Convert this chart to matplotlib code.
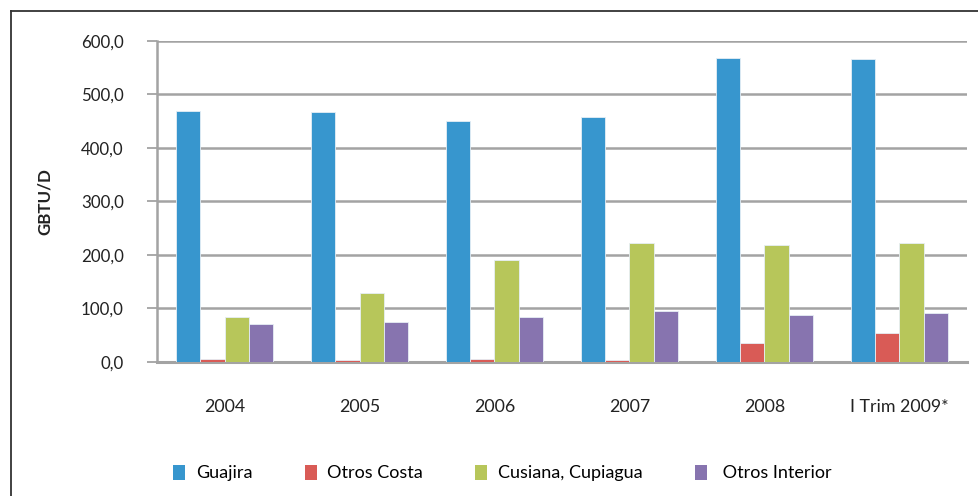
import matplotlib
matplotlib.use("Agg")
import matplotlib.pyplot as plt
from matplotlib.lines import Line2D
from matplotlib.patches import Patch
import numpy as np

categories = ["2004", "2005", "2006", "2007", "2008", "I Trim 2009*"]
series_names = ["Guajira", "Otros Costa", "Cusiana, Cupiagua", " Otros Interior"]
guajira = [468, 466, 449, 457, 568, 565]
otros_costa = [5, 4, 5.5, 3.5, 35, 53]
cusiana_cupiagua = [83, 129, 190, 222, 218, 222]
otros_interior = [71, 75, 84, 95, 87, 91]
colors = ["#3796CE", "#D95B56", "#B7C65A", "#8774AF"]
y_ticks = [0, 100, 200, 300, 400, 500, 600]
y_tick_labels = ["0,0", "100,0", "200,0", "300,0", "400,0", "500,0", "600,0"]

plt.rcParams["font.family"] = ["Lato", "DejaVu Sans"]

fig = plt.figure(figsize=(9.79, 4.96), dpi=100)
ax = fig.add_axes([157 / 979, 1 - 361.7 / 496, (967 - 157) / 979, (361.7 - 40.7) / 496])

x = np.arange(len(categories))
w = 0.18
data = [guajira, otros_costa, cusiana_cupiagua, otros_interior]
for i, (vals, c) in enumerate(zip(data, colors)):
    ax.bar(x + (i - 1.5) * w, vals, width=w, color=c, edgecolor="#E6EEF5",
           linewidth=0.6, zorder=3)

ax.set_xlim(-0.5, len(categories) - 0.5)
ax.set_ylim(0, 600)
ax.set_yticks(y_ticks)
ax.set_yticklabels(y_tick_labels, fontsize=12.2, color="#222222")
ax.yaxis.grid(True, color="#A3A3A3", linewidth=1.8, zorder=0)
ax.set_xticks(x)
ax.set_xticklabels(categories, fontsize=12.8, color="#222222")
ax.tick_params(axis="x", length=0, pad=27)
ax.tick_params(axis="y", length=7, width=1.3, color="#A3A3A3", pad=17)

for s in ["top", "right"]:
    ax.spines[s].set_visible(False)
ax.spines["left"].set_color("#A3A3A3")
ax.spines["left"].set_linewidth(1.8)
ax.spines["bottom"].set_color("#A3A3A3")
ax.spines["bottom"].set_linewidth(2.2)
ax.spines["left"].set_zorder(4)

ax.set_ylabel("GBTU/D", fontsize=12.2, fontweight="bold", labelpad=20, color="#222222")

handles = [Patch(facecolor=c, edgecolor="none") for c in colors]
fig.legend(handles, series_names, loc="center left", bbox_to_anchor=(173 / 979, 1 - 473 / 496),
           ncol=4, frameon=False, fontsize=13, handlelength=0.66, handleheight=0.95,
           columnspacing=2.9, handletextpad=0.6, borderpad=0, borderaxespad=0)

# outer frame (open to right and bottom)
fx = 10.5 / 979
fy = 1 - 11 / 496
fig.add_artist(Line2D([fx, fx], [0, fy], transform=fig.transFigure, color="#333333", linewidth=1.3))
fig.add_artist(Line2D([fx, 1], [fy, fy], transform=fig.transFigure, color="#333333", linewidth=1.3))

fig.savefig("out.png", dpi=100, facecolor="white")
